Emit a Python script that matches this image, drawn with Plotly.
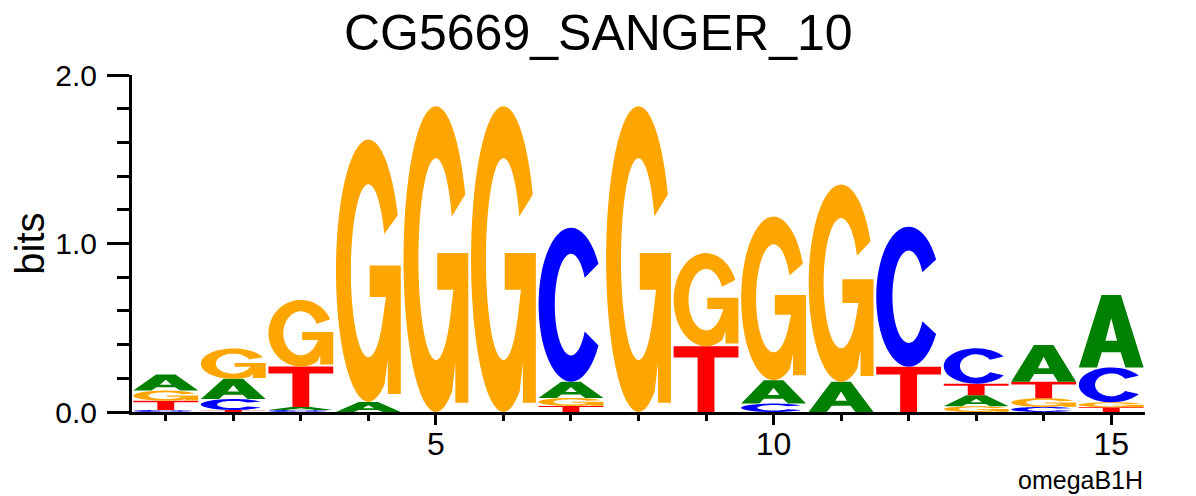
import numpy as np
import plotly.graph_objects as go

# ---- data (bits per letter at each position) ----
positions = list(range(1, 16))
A_bits = [0.095, 0.120, 0.018, 0.060, 0.0, 0.0, 0.097, 0.0, 0.0, 0.139, 0.179, 0.0, 0.066, 0.217, 0.430]
C_bits = [0.012, 0.065, 0.012, 0.0, 0.0, 0.0, 0.914, 0.0, 0.0, 0.050, 0.0, 0.832, 0.210, 0.030, 0.206]
G_bits = [0.060, 0.180, 0.395, 1.557, 1.815, 1.815, 0.047, 1.815, 0.553, 0.971, 1.171, 0.0, 0.034, 0.052, 0.030]
T_bits = [0.055, 0.012, 0.240, 0.0, 0.0, 0.0, 0.036, 0.0, 0.390, 0.0, 0.0, 0.268, 0.068, 0.098, 0.028]

title_text = "CG5669_SANGER_10"
y_title = "bits"
corner_label = "omegaB1H"

colors = {"A": "#008000", "C": "#0000FF", "G": "#FFA500", "T": "#FF0000"}


# ---- glyph templates in a unit box ----
def arc(cx, cy, rx, ry, a0, a1, n=48):
    t = np.radians(np.linspace(a0, a1, n))
    return list(zip(cx + rx * np.cos(t), cy + ry * np.sin(t)))


def glyph_A():
    outer = [(0, 0), (0.35, 1), (0.65, 1), (1, 0), (0.72, 0), (0.645, 0.21),
             (0.355, 0.21), (0.28, 0)]
    hole = [(0.41, 0.37), (0.5, 0.68), (0.59, 0.37)]
    return [outer, hole]


def glyph_C():
    outer = arc(0.5, 0.5, 0.5, 0.5, 32, 328)
    inner = arc(0.5, 0.5, 0.25, 0.33, 328, 32)
    return [outer + inner]


def glyph_G():
    outer = arc(0.5, 0.5, 0.5, 0.5, 25, 300)
    stem = [(0.80, 0.16), (0.80, 0.03), (1.0, 0.03), (1.0, 0.52),
            (0.52, 0.52), (0.52, 0.40), (0.77, 0.40)]
    inner = arc(0.5, 0.5, 0.27, 0.33, -35, -335)
    return [outer + stem + inner]


def glyph_T():
    return [[(0, 1), (1, 1), (1, 0.83), (0.63, 0.83), (0.63, 0), (0.37, 0),
             (0.37, 0.83), (0, 0.83)]]


glyphs = {"A": glyph_A(), "C": glyph_C(), "G": glyph_G(), "T": glyph_T()}

letter_width = 0.96
shapes = []
for i, pos in enumerate(positions):
    col = [("A", A_bits[i]), ("C", C_bits[i]), ("G", G_bits[i]), ("T", T_bits[i])]
    col = sorted([c for c in col if c[1] > 0], key=lambda c: c[1])
    y0 = 0.0
    for letter, h in col:
        parts = []
        for poly in glyphs[letter]:
            pts = [(pos - letter_width / 2 + u * letter_width, y0 + v * h) for u, v in poly]
            parts.append("M " + " L ".join(f"{x:.4f},{y:.5f}" for x, y in pts) + " Z")
        shapes.append(dict(type="path", xref="x", yref="y", path=" ".join(parts),
                           fillcolor=colors[letter], line=dict(width=0),
                           fillrule="evenodd", layer="above"))
        y0 += h

fig = go.Figure()
fig.add_trace(go.Scatter(x=[positions[0]], y=[0], mode="markers",
                         marker=dict(opacity=0), hoverinfo="skip", showlegend=False))

# the page body adds an 8px margin, so the figure is 8px smaller on each axis
W, H = 1188, 488
ML, MR, MT, MB = 124, 51, 67, 84
plot_h = H - MT - MB


def paper_y(fig_px):
    return (H - MB - fig_px) / plot_h


font_family = "Liberation Sans, Arial, Helvetica, sans-serif"
fig.update_layout(
    width=W, height=H,
    margin=dict(l=ML, r=MR, t=MT, b=MB, autoexpand=False),
    paper_bgcolor="white", plot_bgcolor="white",
    shapes=shapes,
    showlegend=False,
    font=dict(family=font_family, color="black"),
    xaxis=dict(range=[0.5, 15.5], showgrid=False, zeroline=False, automargin=False,
               showline=True, linecolor="black", linewidth=3,
               tickmode="linear", tick0=0, dtick=5, ticks="outside",
               ticklen=10, tickwidth=3, tickcolor="black", ticklabelstandoff=-8,
               tickfont=dict(size=32, family=font_family, color="black"),
               minor=dict(tick0=0, dtick=1, ticks="outside", ticklen=6,
                          tickwidth=3, tickcolor="black")),
    yaxis=dict(range=[0, 2], showgrid=False, zeroline=False, automargin=False,
               showline=True, linecolor="black", linewidth=3,
               tickmode="linear", tick0=0, dtick=1, tickformat=".1f",
               ticks="outside", ticklen=22, tickwidth=3, tickcolor="black",
               ticklabelstandoff=4,
               tickfont=dict(size=30, family=font_family, color="black"),
               minor=dict(tick0=0, dtick=0.2, ticks="outside", ticklen=12,
                          tickwidth=3, tickcolor="black"),
               title=dict(text=y_title, standoff=6,
                          font=dict(size=40, family=font_family, color="black"))),
    annotations=[
        dict(text=title_text, xref="paper", yref="paper", x=0.5, y=paper_y(25),
             xanchor="center", yanchor="middle", showarrow=False,
             font=dict(size=50, family=font_family, color="black")),
        dict(text=corner_label, xref="paper", yref="paper", x=1.0, y=paper_y(472),
             xanchor="right", yanchor="middle", showarrow=False,
             font=dict(size=25, family=font_family, color="black")),
    ],
)
# centre the title on the whole figure rather than the plot area
fig.layout.annotations[0].update(xref="paper", x=(W / 2 - 4 - ML) / (W - ML - MR))

fig.write_html("out.html")
